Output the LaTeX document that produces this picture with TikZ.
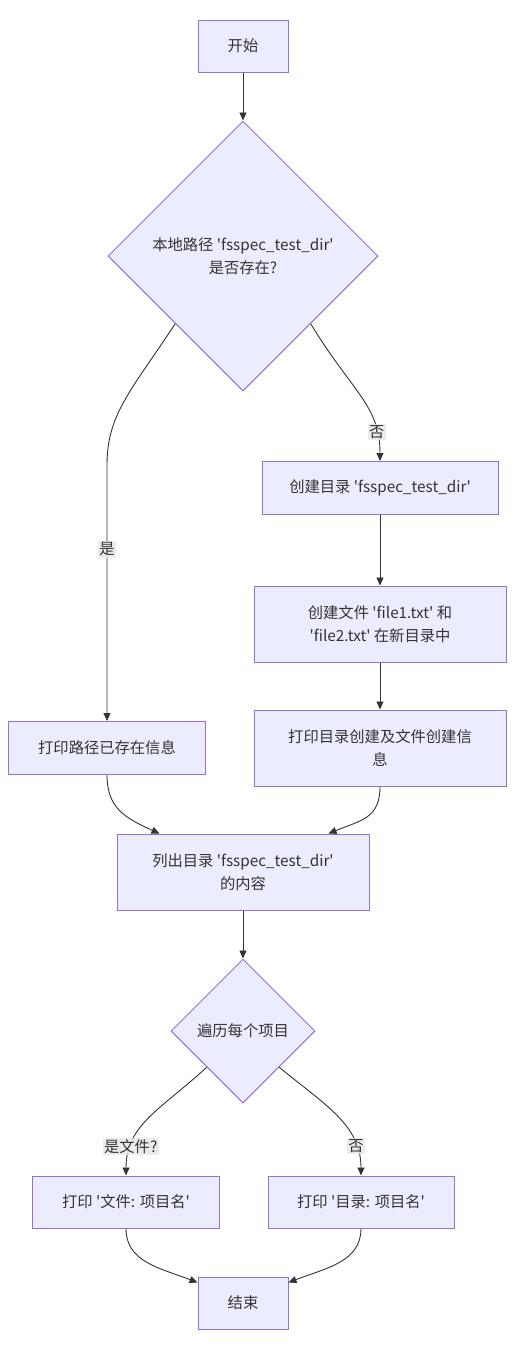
\documentclass[tikz,border=0pt]{standalone}
\usepackage{fontspec}
\newfontfamily\cjk{Noto Sans CJK SC}
\usetikzlibrary{arrows.meta}
\usetikzlibrary{shapes.geometric}
\definecolor{boxfill}{HTML}{ECECFF}
\definecolor{boxline}{HTML}{9370DB}
\definecolor{ink}{HTML}{333333}
\definecolor{lblbg}{HTML}{E8E8E8}
\tikzset{
	box/.style={draw=boxline, fill=boxfill, line width=1pt, text=ink,
		font=\cjk\fontsize{15.3}{23}\selectfont, align=center, inner sep=0pt},
	decide/.style={box, diamond, aspect=1},
	arr/.style={draw=ink, line width=0.9pt, -{Triangle[length=8pt,width=7pt]}},
	lbl/.style={fill=lblbg, fill opacity=0.85, text opacity=1, text=ink,
		font=\cjk\fontsize{15.3}{18}\selectfont, inner sep=1.5pt}
}
\begin{document}
\begin{tikzpicture}[x=1pt, y=-1pt]
	\useasboundingbox (0,0) rectangle (514,1350);
	%% nodes
	\node[box, minimum width=90pt, minimum height=52pt] (start) at (243,46) {开始};
	\node[decide, minimum width=270pt, minimum height=270pt] (chkPath) at (243,256)
		{本地路径 'fsspec\_test\_dir'\\是否存在?};
	\node[box, minimum width=236pt, minimum height=53pt] (mkDir) at (380,488)
		{创建目录 'fsspec\_test\_dir'};
	\node[box, minimum width=252pt, minimum height=76pt] (mkFiles) at (380,624)
		{创建文件 'file1.txt' 和\\'file2.txt' 在新目录中};
	\node[box, minimum width=252pt, minimum height=76pt] (prtCreate) at (380,748)
		{打印目录创建及文件创建信\\息};
	\node[box, minimum width=197pt, minimum height=53pt] (prtExists) at (107,748)
		{打印路径已存在信息};
	\node[box, minimum width=252pt, minimum height=76pt] (lsDir) at (243,872)
		{列出目录 'fsspec\_test\_dir'\\的内容};
	\node[decide, minimum width=144pt, minimum height=144pt] (loopItem) at (243,1031)
		{遍历每个项目};
	\node[box, minimum width=187pt, minimum height=52pt] (prtFile) at (126,1202)
		{打印 '文件: 项目名'};
	\node[box, minimum width=186pt, minimum height=52pt] (prtDir) at (361,1202)
		{打印 '目录: 项目名'};
	\node[box, minimum width=90pt, minimum height=52pt] (finish) at (243,1303) {结束};
	%% edges
	\draw[arr] (start.south) -- (chkPath.north);
	\draw[arr] (chkPath.south west) .. controls (130,392) and (107,415) .. (107,465)
		-- node[lbl, pos=0.33] {是} (prtExists.north);
	\draw[arr] (chkPath.south east) .. controls (352,392) and (380,405) .. node[lbl, pos=0.8] {否} (mkDir.north);
	\draw[arr] (mkDir.south) -- (mkFiles.north);
	\draw[arr] (mkFiles.south) -- (prtCreate.north);
	\draw[arr] (prtExists.south) .. controls (107,808) and (125,818) .. ([xshift=43pt]lsDir.north west);
	\draw[arr] (prtCreate.south) .. controls (380,818) and (362,820) .. ([xshift=-41pt]lsDir.north east);
	\draw[arr] (lsDir.south) -- (loopItem.north);
	\draw[arr] (loopItem.south west) .. controls (160,1110) and (126,1125) .. node[lbl, pos=0.78] {是文件?} (prtFile.north);
	\draw[arr] (loopItem.south east) .. controls (325,1105) and (361,1125) .. node[lbl, pos=0.78] {否} (prtDir.north);
	\draw[arr] (prtFile.south) .. controls (126,1262) and (160,1268) .. ([yshift=-6pt]finish.north west);
	\draw[arr] (prtDir.south) .. controls (361,1262) and (326,1268) .. ([yshift=-6pt]finish.north east);
\end{tikzpicture}
\end{document}
